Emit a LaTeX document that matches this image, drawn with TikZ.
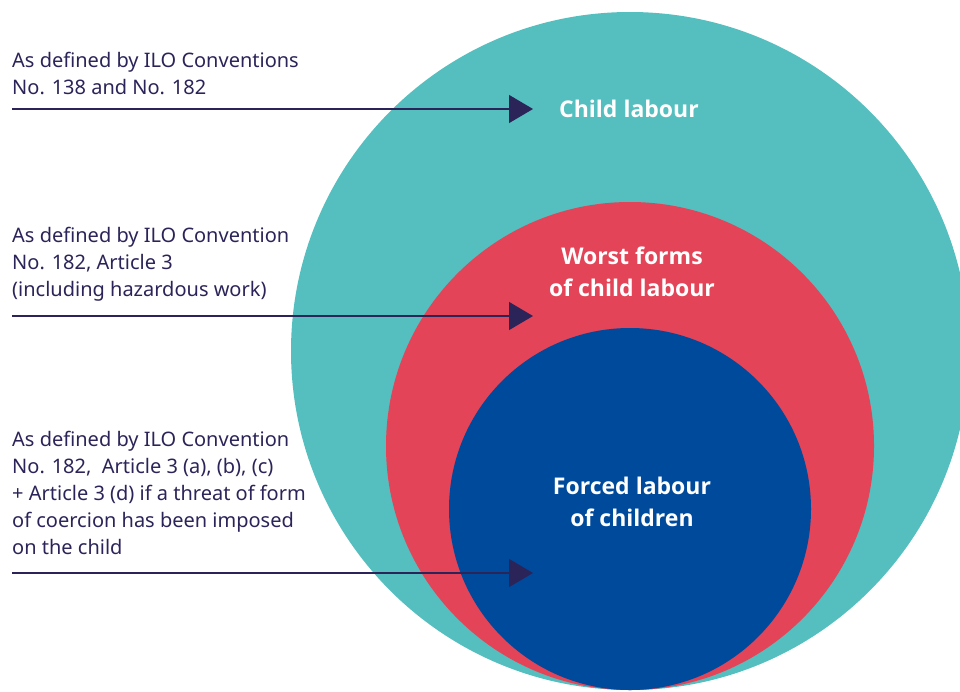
\documentclass[tikz,border=0pt]{standalone}
\usepackage{fontspec}
\setmainfont{Noto Sans}
\newfontfamily\ttlfont{Open Sans}
\usetikzlibrary{arrows.meta}
\definecolor{cteal}{HTML}{55BEBE}
\definecolor{cred}{HTML}{E34457}
\definecolor{cblue}{HTML}{004A9C}
\definecolor{cnavy}{HTML}{2B2459}
\begin{document}
\begin{tikzpicture}[x=1pt,y=1pt,
  ring/.style={circle, inner sep=0pt, draw=none},
  lbl/.style={anchor=base west, inner sep=0pt, text=cnavy, font=\fontsize{20}{27}\selectfont},
  ttl/.style={anchor=base, inner sep=0pt, text=white, font=\ttlfont\bfseries\fontsize{23}{32}\selectfont},
  pointer/.style={draw=cnavy, line width=1.3pt, -{Triangle[length=24pt,width=28pt]}}]
\useasboundingbox (0,0) rectangle (960,-691);
\clip (0,0) rectangle (960,-691);
\node[ring, fill=cteal, minimum size=678pt] (teal) at (630,-351) {};
\node[ring, fill=cred, minimum size=488pt] (red) at (630,-446) {};
\node[ring, fill=cblue, minimum size=362pt] (blue) at (630,-509) {};
\node[ttl] (t1) at (629,-117) {Child labour};
\node[ttl] (t2) at (632,-264) {\parbox[t]{300pt}{\centering Worst forms\\of child labour}};
\node[ttl] (t3) at (632,-494) {\parbox[t]{300pt}{\centering Forced labour\\of children}};
\node[lbl] (l1) at (12,-67) {\parbox[t]{330pt}{\raggedright As defined by ILO Conventions\\No. 138 and No. 182}};
\node[lbl] (l2) at (12,-242) {\parbox[t]{330pt}{\raggedright As defined by ILO Convention\\No. 182, Article 3\\(including hazardous work)}};
\node[lbl] (l3) at (12,-446) {\parbox[t]{330pt}{\raggedright As defined by ILO Convention\\No. 182,~ Article 3 (a), (b), (c)\\+ Article 3 (d) if a threat of form\\of coercion has been imposed\\on the child}};
\coordinate (s1) at (12,-109);
\coordinate (e1) at (533,-109);
\coordinate (s2) at (12,-316);
\coordinate (e2) at (533,-316);
\coordinate (s3) at (12,-573);
\coordinate (e3) at (533,-573);
\draw[pointer] (s1) -- (e1);
\draw[pointer] (s2) -- (e2);
\draw[pointer] (s3) -- (e3);
\end{tikzpicture}
\end{document}
